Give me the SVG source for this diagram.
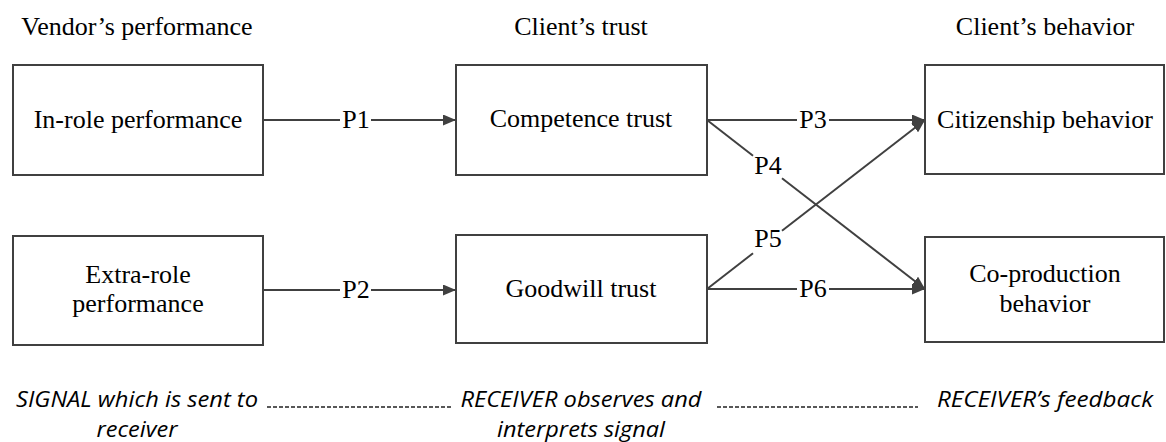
<svg xmlns="http://www.w3.org/2000/svg" width="1166" height="442" viewBox="0 0 1166 442">
<defs>
<style>
.box{fill:#fff;stroke:#404040;stroke-width:2}
.t{font-family:"Liberation Serif","Times New Roman",serif;font-size:26px;fill:#000;text-anchor:middle}
.it{font-family:"Open Sans","Liberation Sans",Arial,sans-serif;font-style:italic;font-size:21px;fill:#000;text-anchor:middle}
.ln{stroke:#404040;stroke-width:2;fill:none}
.dash{stroke:#222;stroke-width:1.5;stroke-dasharray:4 2;fill:none}
</style>
<marker id="arr" markerWidth="13" markerHeight="11" refX="13" refY="5.5" orient="auto" markerUnits="userSpaceOnUse">
<path d="M0,0 L13,5.5 L0,11 z" fill="#404040"/>
</marker>
</defs>
<rect width="1166" height="442" fill="#fff"/>
<g id="headers">
<text class="t" x="137" y="35">Vendor’s performance</text>
<text class="t" x="581" y="35">Client’s trust</text>
<text class="t" x="1045" y="35">Client’s behavior</text>
</g>
<g id="connectors">
<line class="ln" x1="263" y1="120" x2="340" y2="120"/>
<line class="ln" x1="371" y1="120" x2="456" y2="120" marker-end="url(#arr)"/>
<line class="ln" x1="263" y1="290" x2="340" y2="290"/>
<line class="ln" x1="371" y1="290" x2="456" y2="290" marker-end="url(#arr)"/>
<line class="ln" x1="707" y1="120" x2="797" y2="120"/>
<line class="ln" x1="829" y1="120" x2="925" y2="120" marker-end="url(#arr)"/>
<line class="ln" x1="707" y1="289" x2="797" y2="289"/>
<line class="ln" x1="829" y1="289" x2="925" y2="289" marker-end="url(#arr)"/>
<line class="ln" x1="707" y1="120" x2="753" y2="155.7"/>
<line class="ln" x1="782" y1="178.2" x2="925" y2="289" marker-end="url(#arr)"/>
<line class="ln" x1="707" y1="289" x2="753" y2="253.3"/>
<line class="ln" x1="782" y1="230.8" x2="925" y2="120" marker-end="url(#arr)"/>
<text class="t" x="356" y="128">P1</text>
<text class="t" x="356" y="298">P2</text>
<text class="t" x="813" y="128">P3</text>
<text class="t" x="768" y="174">P4</text>
<text class="t" x="768" y="247">P5</text>
<text class="t" x="813" y="297">P6</text>
</g>
<g id="in-role">
<rect class="box" x="13" y="65" width="250" height="110"/>
<text class="t" x="138" y="128">In-role performance</text>
</g>
<g id="extra-role">
<rect class="box" x="13" y="236" width="250" height="109"/>
<text class="t" x="138" y="283">Extra-role</text>
<text class="t" x="138" y="312">performance</text>
</g>
<g id="competence">
<rect class="box" x="456" y="65" width="251" height="110"/>
<text class="t" x="581" y="127">Competence trust</text>
</g>
<g id="goodwill">
<rect class="box" x="456" y="235" width="251" height="108"/>
<text class="t" x="581" y="297">Goodwill trust</text>
</g>
<g id="citizenship">
<rect class="box" x="925" y="65" width="239" height="109"/>
<text class="t" x="1045" y="128">Citizenship behavior</text>
</g>
<g id="coproduction">
<rect class="box" x="925" y="237" width="239" height="105"/>
<text class="t" x="1045" y="282">Co-production</text>
<text class="t" x="1045" y="312">behavior</text>
</g>
<g id="footer">
<text class="it" x="137" y="407" textLength="242" lengthAdjust="spacingAndGlyphs">SIGNAL which is sent to</text>
<text class="it" x="137" y="437" textLength="81" lengthAdjust="spacingAndGlyphs">receiver</text>
<line class="dash" x1="267" y1="407" x2="451" y2="407"/>
<text class="it" x="581" y="407" textLength="241" lengthAdjust="spacingAndGlyphs">RECEIVER observes and</text>
<text class="it" x="581" y="437" textLength="168" lengthAdjust="spacingAndGlyphs">interprets signal</text>
<line class="dash" x1="717" y1="407" x2="918" y2="407"/>
<text class="it" x="1045" y="407" textLength="216" lengthAdjust="spacingAndGlyphs">RECEIVER’s feedback</text>
</g>
</svg>
